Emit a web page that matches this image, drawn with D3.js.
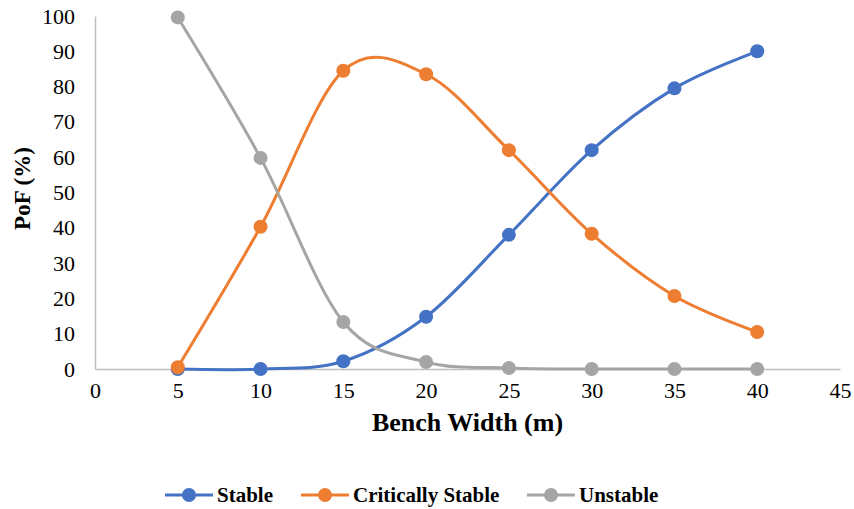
<!DOCTYPE html>
<html>
<head>
<meta charset="utf-8">
<script src="https://cdn.jsdelivr.net/npm/d3@7"></script>
<style>
  body { margin: 0; background: #fff; }
  text { font-family: "Liberation Serif", "Times New Roman", serif; fill: #000; }
</style>
</head>
<body>
<svg id="chart" width="854" height="509"></svg>
<script>
var widths = [5, 10, 15, 20, 25, 30, 35, 40];
var stable = [0, 0, 2.2, 14.8, 38, 62, 79.5, 90];
var critical = [0.5, 40.3, 84.5, 83.5, 62, 38.3, 20.7, 10.5];
var unstable = [99.6, 59.8, 13.3, 2, 0.3, 0, 0, 0];
var xTicks = [0, 5, 10, 15, 20, 25, 30, 35, 40, 45];
var yTicks = [0, 10, 20, 30, 40, 50, 60, 70, 80, 90, 100];

var series = [
    {name: "Stable", values: stable, color: "#4472C4"},
    {name: "Critically Stable", values: critical, color: "#ED7D31"},
    {name: "Unstable", values: unstable, color: "#A5A5A5"}
];

var svg = d3.select("#chart"),
    margin = {top: 16, right: 14, bottom: 140, left: 95},
    width = svg.attr("width") - margin.left - margin.right,
    height = svg.attr("height") - margin.top - margin.bottom,
    g = svg.append("g").attr("transform", "translate(" + margin.left + "," + margin.top + ")");

var x = d3.scaleLinear().domain([0, 45]).range([0, width]);
var y = d3.scaleLinear().domain([0, 100]).range([height, 0]);

// axes
var xAxis = g.append("g")
    .attr("transform", "translate(0," + height + ")")
    .call(d3.axisBottom(x).tickValues(xTicks).tickSize(0).tickPadding(13));
xAxis.attr("font-family", "Liberation Serif").attr("font-size", 22);
xAxis.select(".domain").attr("stroke", "#BFBFBF").attr("stroke-width", 1.5);

var yAxis = g.append("g")
    .call(d3.axisLeft(y).tickValues(yTicks).tickSize(0).tickPadding(20));
yAxis.attr("font-family", "Liberation Serif").attr("font-size", 22);
yAxis.select(".domain").attr("stroke", "#BFBFBF").attr("stroke-width", 1.5);

var line = d3.line()
    .x(function(d, i) { return x(widths[i]); })
    .y(function(d) { return y(d); })
    .curve(d3.curveCatmullRom.alpha(0));

var s = g.selectAll(".series")
    .data(series)
    .enter().append("g")
    .attr("class", "series");

s.append("path")
    .attr("fill", "none")
    .attr("stroke", function(d) { return d.color; })
    .attr("stroke-width", 3)
    .attr("d", function(d) { return line(d.values); });

s.selectAll("circle")
    .data(function(d) { return d.values.map(function(v, i) { return {v: v, i: i, color: d.color}; }); })
    .enter().append("circle")
    .attr("cx", function(d) { return x(widths[d.i]); })
    .attr("cy", function(d) { return y(d.v); })
    .attr("r", 7)
    .attr("fill", function(d) { return d.color; });

// axis titles
svg.append("text")
    .attr("x", margin.left + width / 2)
    .attr("y", 431)
    .attr("text-anchor", "middle")
    .style("font-size", "26px")
    .style("font-weight", "bold")
    .text("Bench Width (m)");

svg.append("text")
    .attr("transform", "translate(30," + (margin.top + height / 2 - 4) + ") rotate(-90)")
    .attr("text-anchor", "middle")
    .style("font-size", "23px")
    .style("font-weight", "bold")
    .text("PoF (%)");

// legend
var legendX = [165, 301, 527];
var lg = svg.selectAll(".legend")
    .data(series)
    .enter().append("g")
    .attr("class", "legend")
    .attr("transform", function(d, i) { return "translate(" + legendX[i] + ",495)"; });

lg.append("line")
    .attr("x1", 0).attr("x2", 48)
    .attr("stroke", function(d) { return d.color; })
    .attr("stroke-width", 3);

lg.append("circle")
    .attr("cx", 24).attr("r", 7)
    .attr("fill", function(d) { return d.color; });

lg.append("text")
    .attr("x", 52)
    .attr("dy", "0.35em")
    .style("font-size", "21px")
    .style("font-weight", "bold")
    .text(function(d) { return d.name; });
</script>
</body>
</html>
